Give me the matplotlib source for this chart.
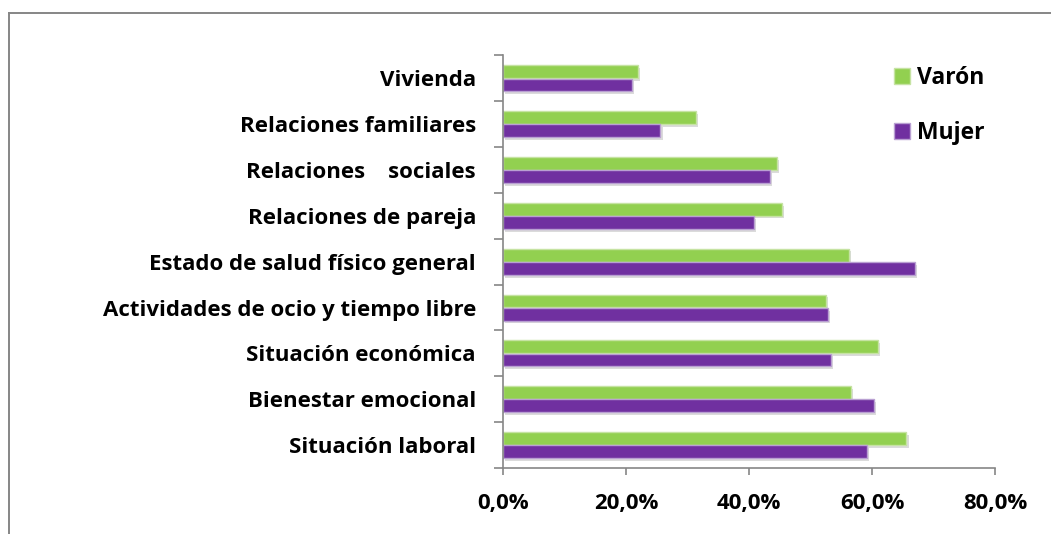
import matplotlib
matplotlib.use("Agg")
import matplotlib.pyplot as plt
import matplotlib.patheffects as pe
from matplotlib.patches import Patch
from matplotlib.lines import Line2D
import numpy as np

# categories top to bottom, as in the chart
categories = ['Vivienda', 'Relaciones familiares', 'Relaciones    sociales',
              'Relaciones de pareja', 'Estado de salud físico general',
              'Actividades de ocio y tiempo libre', 'Situación económica',
              'Bienestar emocional', 'Situación laboral']
varon = [21.9, 31.4, 44.6, 45.3, 56.2, 52.5, 61.0, 56.6, 65.6]
mujer = [20.9, 25.6, 43.4, 40.8, 67.0, 52.9, 53.4, 60.3, 59.2]
xticks = [0, 20, 40, 60, 80]
xlabels = ['0,0%', '20,0%', '40,0%', '60,0%', '80,0%']

GREEN = '#92D050'
PURPLE = '#7030A0'
GRAY = '#868686'

plt.rcParams['font.family'] = ['Open Sans', 'DejaVu Sans']
plt.rcParams['font.weight'] = 'bold'
FS = 16

fig = plt.figure(figsize=(10.51, 5.34), dpi=100)
ax = fig.add_axes([0.4786, 0.1236, 0.4681, 0.7725])

y = np.arange(len(categories))
h = 0.28
off = 0.145
shadow = [pe.SimplePatchShadow(offset=(1.5, -2), shadow_rgbFace='#999999', alpha=0.35), pe.Normal()]
bv = ax.barh(y - off, varon, height=h, color=GREEN, edgecolor='#C6E3A3', linewidth=1.0)
bm = ax.barh(y + off, mujer, height=h, color=PURPLE, edgecolor='#B9A0D2', linewidth=1.0)
for b in list(bv) + list(bm):
    b.set_path_effects(shadow)

ax.set_ylim(len(categories) - 0.5, -0.5)
ax.set_xlim(0, 80)

ax.set_yticks(y)
ax.set_yticklabels(categories, fontsize=FS, fontweight='bold')
ax.set_yticks(np.arange(len(categories) + 1) - 0.5, minor=True)
ax.tick_params(axis='y', which='major', length=0, pad=19.5)
ax.tick_params(axis='y', which='minor', length=6.5, width=1.2, color=GRAY, direction='out')

ax.set_xticks(xticks)
ax.set_xticklabels(xlabels, fontsize=FS, fontweight='bold')
ax.tick_params(axis='x', length=5, width=1.2, color=GRAY, direction='out', pad=13)

for s in ['top', 'right']:
    ax.spines[s].set_visible(False)
for s in ['left', 'bottom']:
    ax.spines[s].set_color(GRAY)
    ax.spines[s].set_linewidth(1.2)

handles = [Patch(facecolor=GREEN, edgecolor='#C6E3A3', label='Varón'),
           Patch(facecolor=PURPLE, edgecolor='#B9A0D2', label='Mujer')]
ax.legend(handles=handles, loc='upper left', bbox_to_anchor=(894 / 1051, 1 - 66 / 534),
          bbox_transform=fig.transFigure, frameon=False,
          handlelength=0.7, handleheight=0.7, handletextpad=0.3,
          labelspacing=1.35, borderpad=0, borderaxespad=0,
          prop={'weight': 'bold', 'size': FS + 0.5})

# outer chart-area border (only top and left visible)
fig.add_artist(Line2D([8.5 / 1051, 8.5 / 1051], [0, 1 - 13 / 534], color=GRAY, lw=1.4,
                      transform=fig.transFigure))
fig.add_artist(Line2D([8.5 / 1051, 1], [1 - 13 / 534, 1 - 13 / 534], color=GRAY, lw=1.4,
                      transform=fig.transFigure))

fig.savefig('out.png', dpi=100)
